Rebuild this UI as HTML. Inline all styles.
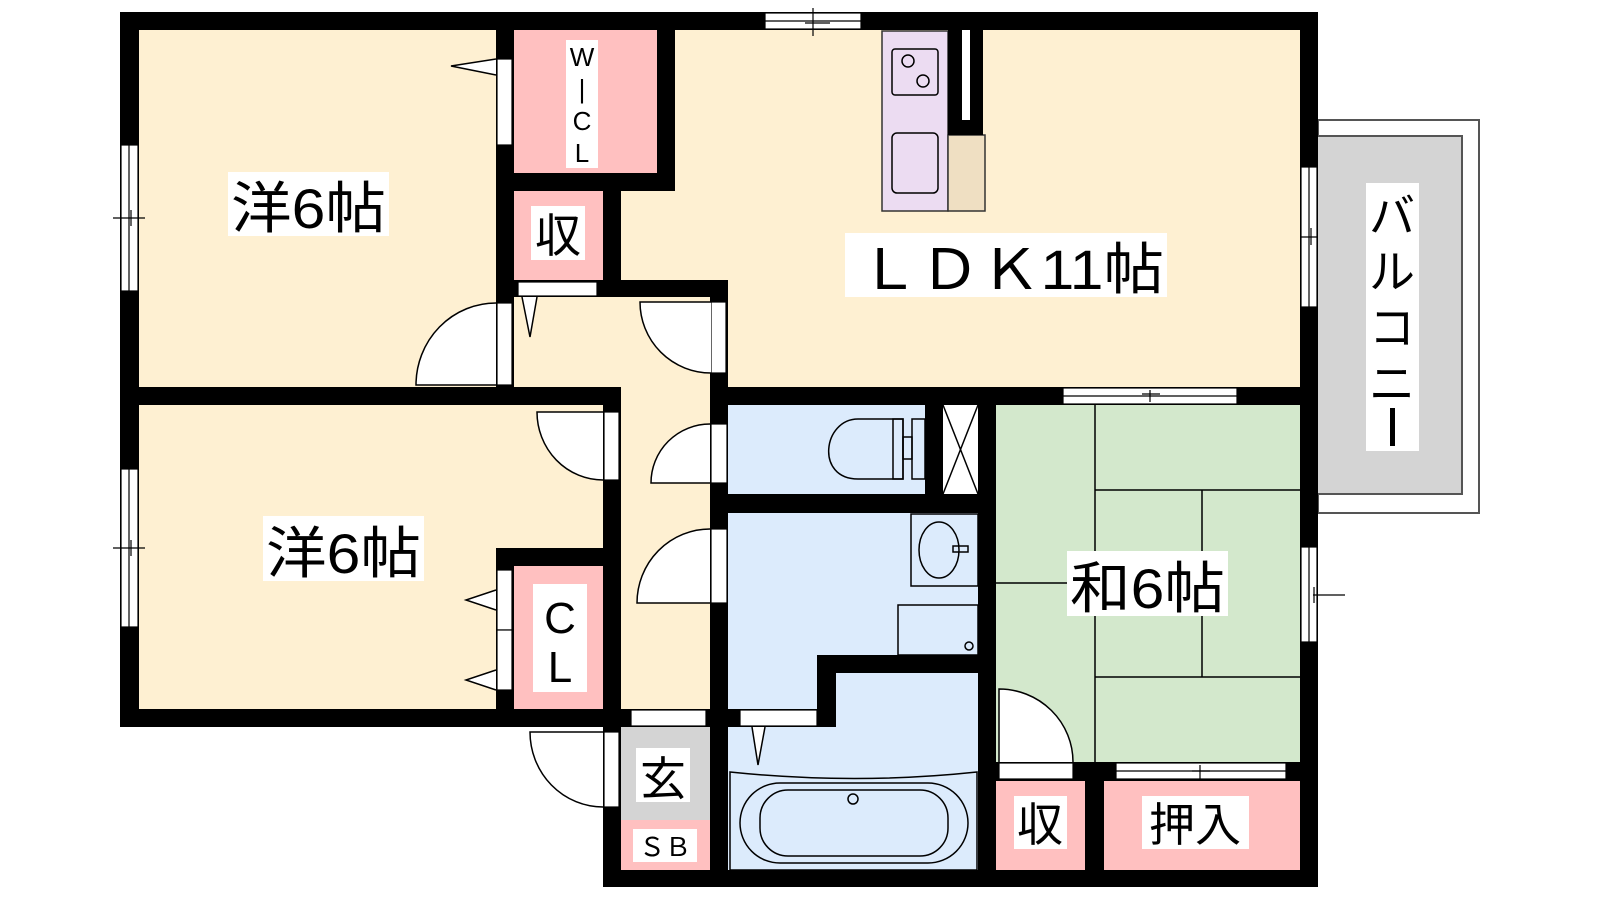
<!DOCTYPE html>
<html><head><meta charset="utf-8"><style>
html,body{margin:0;padding:0;background:#fff;}
svg{display:block}
text{font-family:"Liberation Sans","Noto Sans CJK JP",sans-serif;fill:#000}
</style></head><body>
<svg width="1600" height="900" viewBox="0 0 1600 900" xmlns="http://www.w3.org/2000/svg">
<!-- balcony -->
<rect x="1318" y="120" width="161" height="393" fill="#fff" stroke="#555" stroke-width="2"/>
<rect x="1316" y="136" width="146" height="358" fill="#d4d4d4" stroke="#555" stroke-width="2"/>
<!-- floors -->
<rect x="139" y="30" width="357" height="357" fill="#fef0d2"/>
<rect x="496" y="297" width="232" height="430" fill="#fef0d2"/>
<rect x="603" y="30" width="697" height="357" fill="#fef0d2"/>
<rect x="139" y="405" width="464" height="304" fill="#fef0d2"/>
<rect x="514" y="30" width="143" height="143" fill="#ffc0c0"/>
<rect x="514" y="191" width="89" height="89" fill="#ffc0c0"/>
<rect x="514" y="566" width="89" height="143" fill="#ffc0c0"/>
<rect x="728" y="405" width="250" height="465" fill="#dcebfc"/>
<rect x="943" y="405" width="35" height="89" fill="#fff"/>
<line x1="943" y1="405" x2="978" y2="494" stroke="#000" stroke-width="1.5"/>
<line x1="978" y1="405" x2="943" y2="494" stroke="#000" stroke-width="1.5"/>
<rect x="621" y="727" width="89" height="93" fill="#d4d4d4"/>
<rect x="621" y="820" width="89" height="50" fill="#ffc0c0"/>
<rect x="996" y="405" width="304" height="357" fill="#d3e8cc"/>
<rect x="996" y="781" width="89" height="89" fill="#ffc0c0"/>
<rect x="1104" y="781" width="196" height="89" fill="#ffc0c0"/>
<!-- tatami lines -->
<g stroke="#000" stroke-width="1.5" fill="none">
<line x1="1095" y1="405" x2="1095" y2="762"/>
<line x1="1095" y1="490" x2="1300" y2="490"/>
<line x1="1202" y1="490" x2="1202" y2="677"/>
<line x1="996" y1="583" x2="1095" y2="583"/>
<line x1="1095" y1="677" x2="1300" y2="677"/>
</g>
<!-- kitchen -->
<rect x="882" y="31" width="66" height="180" fill="#ecdcf2" stroke="#333" stroke-width="1.5"/>
<rect x="892" y="49" width="46" height="46" rx="3" fill="none" stroke="#000" stroke-width="1.5"/>
<circle cx="908" cy="61" r="6" fill="none" stroke="#000" stroke-width="1.5"/>
<circle cx="923" cy="81" r="6" fill="none" stroke="#000" stroke-width="1.5"/>
<rect x="892" y="133" width="46" height="60" rx="5" fill="none" stroke="#000" stroke-width="1.5"/>
<rect x="948" y="135" width="37" height="76" fill="#efdfc2" stroke="#333" stroke-width="1.5"/>
<rect x="948" y="30" width="35" height="105" fill="#000"/>
<rect x="962" y="30" width="8" height="90" fill="#fff"/>
<!-- toilet -->
<g fill="none" stroke="#000" stroke-width="1.5">
<path d="M858 419 H903 V479 H858 C815 479 823 419 858 419 Z"/>
<rect x="893" y="419" width="10" height="60"/>
<rect x="912" y="419" width="13" height="60"/>
<rect x="903" y="437" width="9" height="22"/>
<!-- sink -->
<rect x="911" y="514" width="67" height="72"/>
<ellipse cx="939" cy="550" rx="20" ry="28"/>
<rect x="953" y="546" width="15" height="6"/>
<rect x="898" y="605" width="80" height="50"/>
<circle cx="969" cy="646" r="4"/>
<!-- bathtub -->
<path d="M730 772 Q855 785 977 772 V870 H730 Z" fill="#dcebfc"/>
<rect x="740" y="783" width="228" height="80" rx="40"/>
<rect x="760" y="790" width="188" height="66" rx="28"/>
<circle cx="853" cy="799" r="5"/>
</g>
<!-- walls -->
<g fill="#000">
<rect x="120" y="12" width="1198" height="18"/>
<rect x="120" y="12" width="19" height="715"/>
<rect x="1300" y="12" width="18" height="875"/>
<rect x="120" y="709" width="501" height="18"/>
<rect x="603" y="709" width="214" height="18"/>
<rect x="603" y="709" width="18" height="178"/>
<rect x="603" y="870" width="715" height="17"/>
<rect x="120" y="387" width="501" height="18"/>
<rect x="496" y="30" width="18" height="375"/>
<rect x="657" y="30" width="18" height="161"/>
<rect x="496" y="173" width="179" height="18"/>
<rect x="603" y="191" width="18" height="106"/>
<rect x="496" y="280" width="232" height="17"/>
<rect x="710" y="280" width="18" height="607"/>
<rect x="710" y="387" width="608" height="18"/>
<rect x="603" y="387" width="18" height="340"/>
<rect x="496" y="548" width="125" height="18"/>
<rect x="496" y="548" width="18" height="179"/>
<rect x="925" y="405" width="18" height="89"/>
<rect x="978" y="387" width="18" height="500"/>
<rect x="710" y="494" width="286" height="19"/>
<rect x="817" y="655" width="19" height="72"/>
<rect x="817" y="655" width="161" height="18"/>
<rect x="978" y="762" width="340" height="19"/>
<rect x="1085" y="762" width="19" height="125"/>
</g>
<!-- windows / openings -->
<g fill="#fff" stroke="#000" stroke-width="1.2">
<rect x="765" y="13" width="96" height="16"/>
<line x1="765" y1="21" x2="861" y2="21"/>
<rect x="1063" y="388" width="174" height="16"/>
<line x1="1063" y1="396" x2="1237" y2="396"/>
<rect x="1301" y="167" width="16" height="140"/>
<line x1="1309" y1="167" x2="1309" y2="307"/>
<rect x="1301" y="547" width="16" height="95"/>
<line x1="1309" y1="547" x2="1309" y2="642"/>
<rect x="121" y="145" width="17" height="146"/>
<line x1="129" y1="145" x2="129" y2="291"/>
<rect x="121" y="469" width="17" height="158"/>
<line x1="129" y1="469" x2="129" y2="627"/>
<rect x="1116" y="763" width="170" height="16"/>
<line x1="1116" y1="771" x2="1286" y2="771"/>
<!-- sliding doors -->
<rect x="497" y="59" width="15" height="86"/>
<rect x="518" y="282" width="79" height="14"/>
<rect x="497" y="570" width="15" height="60"/>
<rect x="497" y="630" width="15" height="60"/>
<rect x="631" y="710" width="75" height="16"/>
<rect x="740" y="710" width="77" height="16"/>
<rect x="999" y="763" width="74" height="16"/>
<!-- door frames -->
<rect x="497" y="303" width="15" height="82"/>
<rect x="711" y="302" width="15" height="71"/>
<rect x="604" y="412" width="15" height="68"/>
<rect x="711" y="424" width="16" height="59"/>
<rect x="711" y="529" width="16" height="74"/>
<rect x="604" y="732" width="15" height="75"/>
</g>
<!-- window tick marks -->
<g stroke="#000" stroke-width="1.2">
<line x1="813" y1="8" x2="813" y2="36"/><line x1="805" y1="23" x2="830" y2="23"/>
<line x1="1150" y1="390" x2="1150" y2="402"/><line x1="1142" y1="394" x2="1160" y2="394"/>
<line x1="1300" y1="237" x2="1318" y2="237"/><line x1="1311" y1="228" x2="1311" y2="245"/>
<line x1="1313" y1="595" x2="1345" y2="595"/><line x1="1314" y1="587" x2="1314" y2="603"/>
<line x1="113" y1="218" x2="145" y2="218"/><line x1="131" y1="210" x2="131" y2="226"/>
<line x1="113" y1="548" x2="145" y2="548"/><line x1="131" y1="540" x2="131" y2="556"/>
<line x1="1200" y1="765" x2="1200" y2="779"/><line x1="1192" y1="771" x2="1210" y2="771"/>
</g>
<!-- door swings -->
<g fill="#fff" stroke="#000" stroke-width="1.5">
<path d="M496 385 H416 A80 82 0 0 1 496 303"/>
<path d="M711 302 H640 A71 71 0 0 0 711 373"/>
<path d="M603 412 H537 A66 68 0 0 0 603 480"/>
<path d="M710 483 H651 A59 59 0 0 1 710 424"/>
<path d="M710 603 H637 A73 74 0 0 1 710 529"/>
<path d="M603 732 H530 A73 75 0 0 0 603 807"/>
<path d="M999 762 V689 A74 73 0 0 1 1073 762"/>
<!-- sliding triangles -->
<path d="M496 59 L451 66 L496 75"/>
<path d="M522 297 L530 337 L537 297"/>
<path d="M496 590 L466 600 L496 610"/>
<path d="M496 670 L466 680 L496 690"/>
<path d="M752 727 L758 765 L765 727"/>
</g>
<!-- labels -->
<g fill="#fff">
<rect x="228" y="172" width="161" height="64"/>
<rect x="263" y="516" width="161" height="65"/>
<rect x="845" y="233" width="322" height="64"/>
<rect x="1067" y="551" width="161" height="65"/>
<rect x="531" y="206" width="54" height="54"/>
<rect x="566" y="40" width="32" height="128"/>
<rect x="533" y="584" width="54" height="108"/>
<rect x="636" y="748" width="54" height="54"/>
<rect x="633" y="829" width="64" height="33"/>
<rect x="1014" y="796" width="53" height="53"/>
<rect x="1142" y="796" width="107" height="53"/>
<rect x="1366" y="183" width="53" height="268"/>
</g>
<text x="231" y="228" font-size="56" textLength="155" lengthAdjust="spacingAndGlyphs">洋6帖</text>
<text x="266" y="573" font-size="56" textLength="155" lengthAdjust="spacingAndGlyphs">洋6帖</text>
<text x="859" y="289" font-size="56" textLength="305" lengthAdjust="spacingAndGlyphs">ＬＤＫ11帖</text>
<text x="1070" y="608" font-size="56" textLength="155" lengthAdjust="spacingAndGlyphs">和6帖</text>
<text x="558" y="252" font-size="46" text-anchor="middle">収</text>
<text x="1040" y="841" font-size="46" text-anchor="middle">収</text>
<text x="1195" y="841" font-size="46" text-anchor="middle">押入</text>
<text x="663" y="795" font-size="46" text-anchor="middle">玄</text>
<text x="665" y="856" font-size="26" text-anchor="middle">ＳＢ</text>
<text x="582" y="66" font-size="26" text-anchor="middle">W</text>
<text x="582" y="98" font-size="26" text-anchor="middle">|</text>
<text x="582" y="130" font-size="26" text-anchor="middle">C</text>
<text x="582" y="162" font-size="26" text-anchor="middle">L</text>
<text x="560" y="633" font-size="44" text-anchor="middle">C</text>
<text x="560" y="682" font-size="44" text-anchor="middle">L</text>
<text x="1392" y="232" font-size="46" text-anchor="middle">バ</text>
<text x="1392" y="288" font-size="46" text-anchor="middle">ル</text>
<text x="1392" y="344" font-size="46" text-anchor="middle">コ</text>
<text x="1392" y="400" font-size="46" text-anchor="middle">ニ</text>
<rect x="1390" y="408" width="5" height="38" fill="#000"/>
</svg>
</body></html>
